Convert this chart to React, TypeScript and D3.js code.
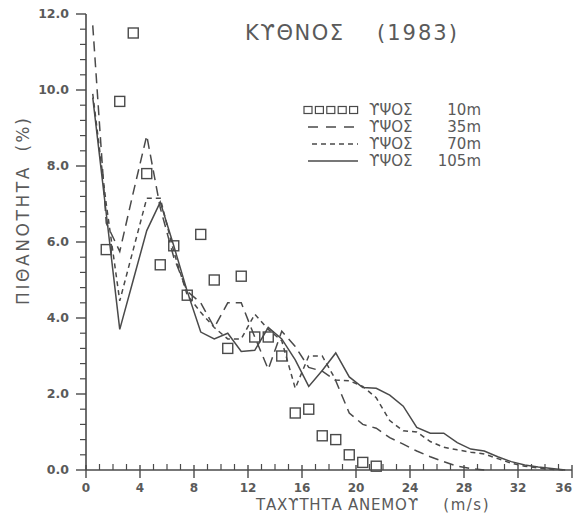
import React from "react";
import * as d3 from "d3";

const speeds = [0.5, 1.5, 2.5, 3.5, 4.5, 5.5, 6.5, 7.5, 8.5, 9.5, 10.5, 11.5, 12.5, 13.5, 14.5, 15.5, 16.5, 17.5, 18.5, 19.5, 20.5, 21.5, 22.5, 23.5, 24.5, 25.5, 26.5, 27.5, 28.5, 29.5, 30.5, 31.5, 32.5, 33.5, 34.5, 35.5];

const h35 = [11.7, 6.5, 5.75, 7.3, 8.8, 6.9, 5.6, 4.7, 4.4, 3.75, 4.4, 4.4, 3.5, 2.65, 3.65, 3.25, 2.7, 2.6, 2.35, 1.5, 1.2, 1.1, 0.85, 0.68, 0.5, 0.35, 0.22, 0.1, 0.04, 0.0];
const h70 = [9.9, 7.0, 4.45, 5.8, 7.15, 7.15, 5.75, 4.6, 4.15, 3.75, 3.45, 3.45, 4.1, 3.7, 3.4, 2.15, 3.0, 3.0, 2.37, 2.35, 2.2, 1.9, 1.3, 1.03, 1.0, 0.75, 0.6, 0.53, 0.47, 0.42, 0.3, 0.18, 0.1, 0.05, 0.02, 0.0];
const h105 = [9.8, 6.75, 3.7, 5.0, 6.3, 7.05, 5.9, 4.7, 3.63, 3.45, 3.6, 3.12, 3.15, 3.75, 3.45, 2.9, 2.2, 2.62, 3.08, 2.45, 2.17, 2.15, 1.97, 1.68, 1.12, 0.97, 0.97, 0.72, 0.55, 0.5, 0.35, 0.22, 0.13, 0.08, 0.04, 0.0];

const speeds10 = [1.5, 2.5, 3.5, 4.5, 5.5, 6.5, 7.5, 8.5, 9.5, 10.5, 11.5, 12.5, 13.5, 14.5, 15.5, 16.5, 17.5, 18.5, 19.5, 20.5, 21.5];
const h10 = [5.8, 9.7, 11.5, 7.8, 5.4, 5.9, 4.6, 6.2, 5.0, 3.2, 5.1, 3.5, 3.5, 3.0, 1.5, 1.6, 0.9, 0.8, 0.4, 0.2, 0.1];

const xMajor = [0, 4, 8, 12, 16, 20, 24, 28, 32, 36];
const yMajor = [0, 2, 4, 6, 8, 10, 12];
const yLabels = ["0.0", "2.0", "4.0", "6.0", "8.0", "10.0", "12.0"];

const title = "ΚϒΘΝΟΣ";
const year = "(1983)";
const legendWord = "ϒΨΟΣ";
const legendHeights = ["10m", "35m", "70m", "105m"];
const xTitle = "ΤΑΧϒΤΗΤΑ  ΑΝΕΜΟϒ";
const xUnit = "(m/s)";
const yTitle = "ΠΙΘΑΝΟΤΗΤΑ";
const yUnit = "(%)";

const INK = "#4a4a4a";
const TXT = "#5a5a5a";
const FONT = "'DejaVu Sans', sans-serif";

export default function App() {
  const x = d3.scaleLinear().domain([0, 36]).range([86, 572]);
  const y = d3.scaleLinear().domain([0, 12]).range([470, 14]);
  const line = d3
    .line<[number, number]>()
    .x((d) => x(d[0]))
    .y((d) => y(d[1]));

  const zip = (vals: number[]) => vals.map((v, i) => [speeds[i], v] as [number, number]);

  const xMinor = d3.range(0, 37, 1).filter((v) => v % 4 !== 0);
  const yMinor = d3.range(0, 12.01, 0.4).filter((v) => Math.abs(v / 2 - Math.round(v / 2)) > 0.01);

  const lx0 = 308;
  const lx1 = 358;
  const rows = [110, 127, 144, 161];

  return (
    <svg
      width={575}
      height={520}
      style={{ position: "absolute", left: 0, top: 0, background: "#fff" }}
      fontFamily={FONT}
    >
      <rect x={0} y={0} width={575} height={520} fill="#fff" />
      {/* axes */}
      <line x1={x(0)} x2={x(0)} y1={y(0)} y2={y(12)} stroke={INK} strokeWidth={1.6} />
      <line x1={x(0)} x2={x(36)} y1={y(0)} y2={y(0)} stroke={INK} strokeWidth={1.6} />
      {yMajor.map((v, i) => (
        <g key={"ym" + v}>
          <line x1={x(0) - 10} x2={x(0)} y1={y(v)} y2={y(v)} stroke={INK} strokeWidth={1.4} />
          <text x={69} y={y(v)} dy="0.35em" textAnchor="end" fontSize={12.5} fill={TXT} fontWeight="bold">
            {yLabels[i]}
          </text>
        </g>
      ))}
      {yMinor.map((v) => (
        <line key={"yn" + v} x1={x(0) - 6} x2={x(0)} y1={y(v)} y2={y(v)} stroke={INK} strokeWidth={1.2} />
      ))}
      {xMajor.map((v) => (
        <g key={"xm" + v}>
          <line x1={x(v)} x2={x(v)} y1={y(0) - 5} y2={y(0) + 8} stroke={INK} strokeWidth={1.4} />
          <text
            x={Math.min(x(v), 574)}
            y={y(0) + 18}
            dy="0.35em"
            textAnchor={x(v) > 560 ? "end" : "middle"}
            fontSize={12}
            fill={TXT}
            fontWeight="bold"
          >
            {v}
          </text>
        </g>
      ))}
      {xMinor.map((v) => (
        <line key={"xn" + v} x1={x(v)} x2={x(v)} y1={y(0) - 6} y2={y(0)} stroke={INK} strokeWidth={1.2} />
      ))}

      {/* series */}
      <path d={line(zip(h35)) || ""} fill="none" stroke={INK} strokeWidth={1.5} strokeDasharray="10 6" />
      <path d={line(zip(h70)) || ""} fill="none" stroke={INK} strokeWidth={1.5} strokeDasharray="5 4" />
      <path d={line(zip(h105)) || ""} fill="none" stroke={INK} strokeWidth={1.5} />
      {h10.map((v, i) => (
        <rect
          key={"sq" + i}
          x={x(speeds10[i]) - 5}
          y={y(v) - 5}
          width={10}
          height={10}
          fill="none"
          stroke={INK}
          strokeWidth={1.4}
        />
      ))}

      {/* title */}
      <text x={245} y={40} fontSize={21} fill={TXT} letterSpacing={1.5}>
        {title}
      </text>
      <text x={377} y={40} fontSize={21} fill={TXT} letterSpacing={2}>
        {year}
      </text>

      {/* legend */}
      {[0, 1, 2, 3, 4].map((k) => (
        <rect key={"lg" + k} x={304 + k * 11.4} y={rows[0] - 3.5} width={8} height={7} fill="none" stroke={INK} strokeWidth={1.2} />
      ))}
      <line x1={lx0} x2={lx1} y1={rows[1]} y2={rows[1]} stroke={INK} strokeWidth={1.4} strokeDasharray="10 8" />
      <line x1={lx0 + 4} x2={lx1} y1={rows[2]} y2={rows[2]} stroke={INK} strokeWidth={1.4} strokeDasharray="5 4" />
      <line x1={lx0} x2={lx1} y1={rows[3]} y2={rows[3]} stroke={INK} strokeWidth={1.4} />
      {rows.map((ry, i) => (
        <g key={"lt" + i}>
          <text x={369} y={ry} dy="0.36em" fontSize={15} fill={TXT}>
            {legendWord}
          </text>
          <text x={481} y={ry} dy="0.36em" fontSize={15} fill={TXT} textAnchor="end">
            {legendHeights[i]}
          </text>
        </g>
      ))}

      {/* axis titles */}
      <text x={256} y={510} fontSize={15} fill={TXT} letterSpacing={0.8}>
        {xTitle}
      </text>
      <text x={490} y={510} fontSize={15} fill={TXT} textAnchor="end" letterSpacing={1.5}>
        {xUnit}
      </text>
      <g transform="translate(29,0) rotate(-90)">
        <text x={-305} y={0} fontSize={17} fill={TXT} letterSpacing={2.6}>
          {yTitle}
        </text>
        <text x={-116} y={0} fontSize={17} fill={TXT} textAnchor="end" letterSpacing={2}>
          {yUnit}
        </text>
      </g>
    </svg>
  );
}
